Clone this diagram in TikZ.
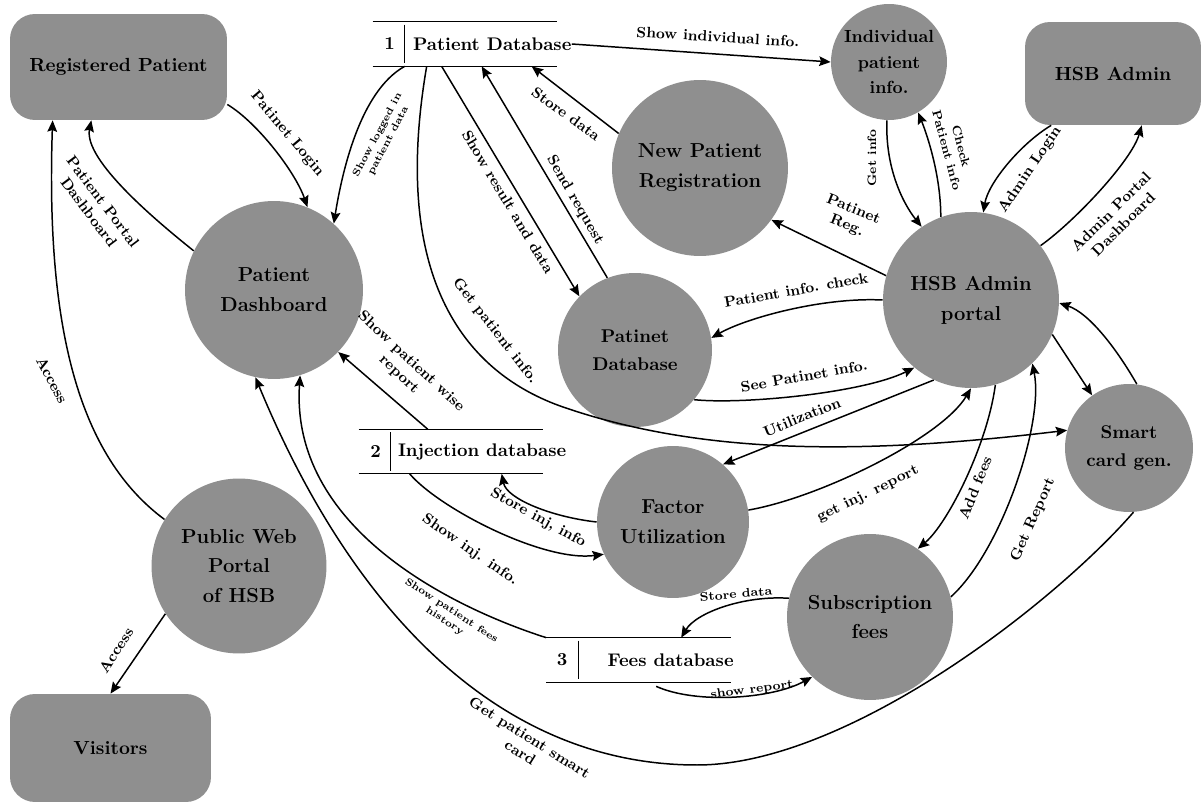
\documentclass[tikz,border=0pt]{standalone}
\usepackage{tikz}
\usetikzlibrary{
	arrows.meta,
	positioning,
	calc
}
\usepackage{xcolor}
\definecolor{bubblegray}{RGB}{143,143,143}

\begin{document}
\begin{tikzpicture}[x=0.02cm, y=0.02cm,
		entity/.style={fill=bubblegray, rounded corners=0.5cm, font=\bfseries\fontsize{10.8}{13}\selectfont},
		process/.style={circle, fill=bubblegray, align=center, inner sep=0, font=\bfseries\fontsize{11.5}{17}\selectfont},
		smallproc/.style={process, font=\bfseries\fontsize{10.5}{16}\selectfont},
		store/.style={minimum width=3.68cm, minimum height=0.88cm, inner sep=0},
		storetext/.style={font=\bfseries\fontsize{10.4}{12}\selectfont, inner sep=0},
		flow/.style={line width=0.85pt, -{Stealth[length=6.5pt,width=5.5pt,inset=1pt]}},
		lbl/.style={font=\bfseries\fontsize{8.5}{10}\selectfont, align=center, inner sep=0},
		lblsmall/.style={lbl, font=\bfseries\fontsize{7}{8.5}\selectfont},
		lbltiny/.style={lbl, font=\bfseries\fontsize{5.8}{7}\selectfont}]
		
		\useasboundingbox (0,0) rectangle (1201,-803);
		
		% External entities
		\node[entity, minimum width=4.34cm, minimum height=2.12cm] (regpat) at (118.5,-67) {Registered Patient};
		\node[entity, minimum width=3.52cm, minimum height=2.06cm] (admin) at (1113,-73.5) {HSB Admin};
		\node[entity, minimum width=4.02cm, minimum height=2.16cm] (visitors) at (110.5,-748) {Visitors};
		
		% Processes
		\node[process, minimum size=3.56cm] (pdash) at (274,-290) {Patient\\Dashboard};
		\node[process, minimum size=3.5cm] (portal) at (239,-566) {Public Web\\Portal\\of HSB};
		\node[process, minimum size=3.52cm] (newreg) at (700,-168) {New Patient\\Registration};
		\node[smallproc, minimum size=2.32cm, font=\bfseries\fontsize{10}{14.5}\selectfont] (indiv) at (889,-62) {Individual\\patient\\info.};
		\node[process, minimum size=3.52cm] (adminp) at (971,-300) {HSB Admin\\portal};
		\node[smallproc, minimum size=3.08cm] (patdb) at (635,-350) {Patinet\\Database};
		\node[smallproc, minimum size=2.56cm] (smart) at (1129,-448) {Smart\\card gen.};
		\node[process, minimum size=3.04cm] (factor) at (673,-522) {Factor\\Utilization};
		\node[process, minimum size=3.32cm] (subfee) at (870,-617) {Subscription\\fees};
		
		% Data stores
		\node[store] (pdbase) at (465,-44) {};
		\node[store] (injdb) at (451,-451.5) {};
		\node[store] (feesdb) at (638.5,-660) {};
		\foreach \s in {pdbase,injdb,feesdb}{
			\draw[line width=0.6pt] (\s.north west) -- (\s.north east) (\s.south west) -- (\s.south east);
			\draw[line width=0.6pt] ($(\s.north west)+(32,-3)$) -- ($(\s.south west)+(32,3)$);
		}
		\node[storetext] (pdbnum) at ($(pdbase.west)+(17,0)$) {1};
		\node[storetext, anchor=west] (pdbtxt) at ($(pdbase.west)+(40,0)$) {Patient Database};
		\node[storetext] (injnum) at ($(injdb.west)+(17,0)$) {2};
		\node[storetext, anchor=west] (injtxt) at ($(injdb.west)+(39,0)$) {Injection database};
		\node[storetext] (feesnum) at ($(feesdb.west)+(16,0)$) {3};
		\node[storetext, anchor=west] (feestxt) at ($(feesdb.west)+(61,0)$) {Fees database};
		
		% Registered patient, portal and visitors
		\draw[flow] (regpat.-19) .. controls +(30,-18) and +(-12,35) .. (pdash.68);
		\draw[flow] (pdash.154) .. controls +(-35,28) and +(-8,-40) .. (regpat.-117);
		\draw[flow] (portal.148) .. controls +(-85,63) and +(-7,-210) .. (regpat.-141);
		\draw[flow] (portal.-147) -- (visitors.north);
		
		% Patient database
		\draw[flow] ($(pdbase.south west)+(32,0)$) .. controls +(-45,-25) and +(8,50) .. (pdash.48);
		\draw[flow] ($(pdbase.south west)+(54,0)$) .. controls +(-37,-216) and +(-95,33) .. (563,-407)
		.. controls +(142,-49) and +(-200,-24) .. (smart.164);
		\draw[flow] ($(pdbase.south west)+(69,0)$) -- (patdb.136);
		\draw[flow] (patdb.111) -- ($(pdbase.south west)+(109,0)$);
		\draw[flow] (newreg.157) -- ($(pdbase.south west)+(159,0)$);
		\draw[flow] (pdbtxt.east) -- (indiv.west);
		
		% Individual info and HSB admin
		\draw[flow] (indiv.-92) .. controls +(-2,-45) and +(-20,25) .. (adminp.124);
		\draw[flow] (adminp.110) .. controls +(0,40) and +(10,-25) .. (indiv.-60);
		\draw[flow] (admin.-140) .. controls +(-30,-18) and +(5,30) .. (adminp.82);
		\draw[flow] (adminp.38) .. controls +(35,25) and +(-10,-35) .. (admin.-61);
		
		% Admin portal
		\draw[flow] (adminp.164) -- (newreg.-36);
		\draw[flow] (adminp.180) .. controls +(-60,3) and +(35,20) .. (patdb.9);
		\draw[flow] (patdb.-40) .. controls +(50,-5) and +(-50,-25) .. (adminp.-130);
		\draw[flow] (adminp.-115) -- (factor.49);
		\draw[flow] (factor.9) .. controls +(70,12) and +(-30,-50) .. (adminp.-90);
		
		% Injection database
		\draw[flow] (factor.180) .. controls +(-45,5) and +(5,-25) .. ($(injdb.south west)+(143,0)$);
		\draw[flow] ($(injdb.south west)+(51,0)$) .. controls +(30,-35) and +(-60,-8) .. (factor.-155);
		\draw[flow] ($(injdb.north west)+(69,0)$) -- (pdash.-44);
		
		% Fees database
		\draw[flow] (feesdb.north west) .. controls +(-100,32) and +(-10,-150) .. (pdash.-73);
		\draw[flow] (subfee.167) .. controls +(-45,3) and +(15,25) .. ($(feesdb.north west)+(135,0)$);
		\draw[flow] ($(feesdb.south west)+(110,-4)$) .. controls +(40,-18) and +(-40,-22) .. (subfee.-134);
		
		% Subscription fees and smart card
		\draw[flow] (adminp.-74) .. controls +(-8,-60) and +(30,25) .. (subfee.55);
		\draw[flow] (subfee.14) .. controls +(50,45) and +(12,-60) .. (adminp.-46);
		\draw[flow] (adminp.-23) -- (smart.125);
		\draw[flow] (smart.83) .. controls +(-20,35) and +(30,-10) .. (adminp.-2);
		\draw[flow] (smart.-86) .. controls +(-79,-91) and +(150,0) .. (697,-765)
		.. controls +(-200,0) and +(95,-230) .. (pdash.-102);
		
		% Flow labels
		\node[lbl, rotate=-50] (lbllogin) at (287,-134) {Patinet Login};
		\node[lbl, rotate=-53] (lblpdash) at (96,-207) {Patient Portal\\Dashboard};
		\node[lbl, rotate=-62] (lblacc1) at (52,-380) {Access};
		\node[lbl, rotate=57] (lblacc2) at (116,-650) {Access};
		\node[lbltiny, rotate=62] (lbllogged) at (383,-138) {Show logged in\\patient data};
		\node[lbl, rotate=-52] (lblgetpat) at (495,-331) {Get patient info.};
		\node[lbl, rotate=-59] (lblresult) at (508,-202) {Show result and data};
		\node[lbl, rotate=-60] (lblsend) at (575,-200) {Send request};
		\node[lbl, rotate=-36] (lblstore) at (566,-114) {Store data};
		\node[lbl, rotate=-3.5] (lblindiv) at (718,-37) {Show individual info.};
		\node[lblsmall, rotate=90] (lblgetinfo) at (872,-158) {Get info};
		\node[lblsmall, rotate=-75] (lblcheck) at (954,-148) {Check\\Patient info};
		\node[lbl, rotate=56] (lbladmin) at (1030,-170) {Admin Login};
		\node[lbl, rotate=45] (lbladmdash) at (1117,-218) {Admin Portal\\Dashboard};
		\node[lbl, rotate=-22] (lblreg) at (850,-218) {Patinet\\Reg.};
		\node[lbl, rotate=10] (lblpcheck) at (796,-290) {Patient info. check};
		\node[lbl, rotate=10] (lblsee) at (804,-376) {See Patinet info.};
		\node[lbl, rotate=22] (lblutil) at (802,-417) {Utilization};
		\node[lbl, rotate=26] (lblinjrep) at (868,-494) {get inj. report};
		\node[lbl, rotate=-29] (lblstoreinj) at (538,-518) {Store inj, info};
		\node[lbl, rotate=-35] (lblshowinj) at (470,-550) {Show inj. info.};
		\node[lbl, rotate=-43] (lblwise) at (405,-368) {Show patient wise\\report};
		\node[lbltiny, rotate=-33] (lblfees) at (448,-616) {Show patient fees\\history};
		\node[lbl, rotate=-32] (lblcard) at (525,-745) {Get patient smart\\card};
		\node[lblsmall, rotate=5] (lblstorefee) at (736,-594) {Store data};
		\node[lblsmall, rotate=8] (lblshowrep) at (752,-690) {show report};
		\node[lbl, rotate=68] (lbladdfee) at (975,-488) {Add fees};
		\node[lbl, rotate=66] (lblgetrep) at (1033,-520) {Get Report};
		
	\end{tikzpicture}
\end{document}
